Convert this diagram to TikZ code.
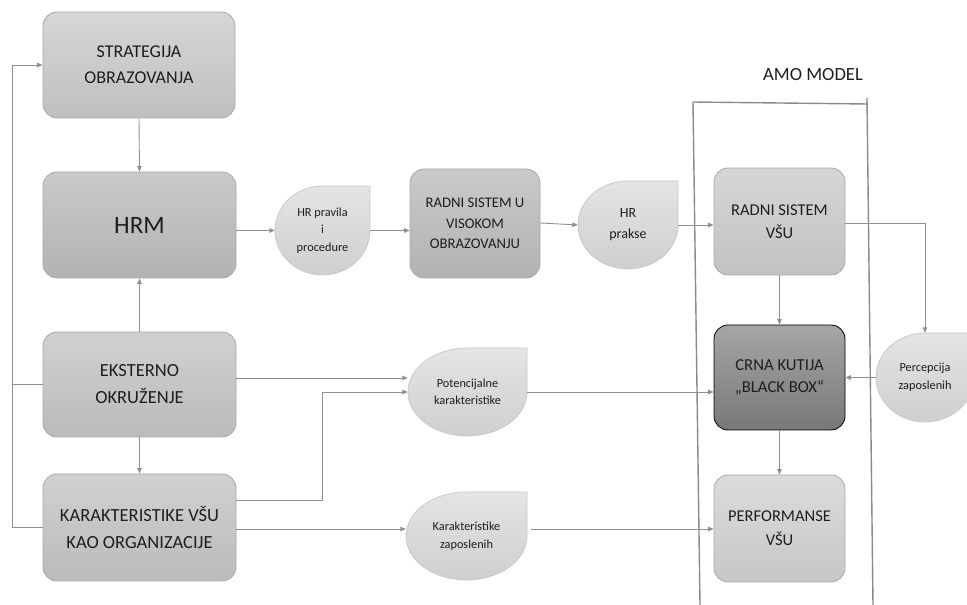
\documentclass[tikz,border=0pt]{standalone}
\usepackage{fontspec}
\setmainfont{Carlito}
\usetikzlibrary{arrows.meta}
\definecolor{txt}{HTML}{1E1E1E}
\definecolor{bord}{HTML}{A9A9A9}
\definecolor{connc}{HTML}{909090}
\definecolor{framec}{HTML}{8A8A8A}
\definecolor{tdtop}{HTML}{E4E4E4}
\definecolor{tdbot}{HTML}{CFCFCF}
\definecolor{tdbord}{HTML}{CACACA}
\tikzset{
  boxnode/.style={draw=bord, line width=0.8pt, rounded corners=14pt, align=center, text=txt, inner sep=0pt},
  tdtext/.style={align=center, text=txt, inner sep=0pt, font=\fontsize{12.3}{17.5}\selectfont},
  tdshape/.style={draw=tdbord, line width=0.8pt, top color=tdtop, bottom color=tdbot},
  conn/.style={draw=connc, line width=0.9pt, -{Triangle[length=5.5pt,width=4.5pt]}},
  plain/.style={draw=connc, line width=0.9pt},
  amoline/.style={draw=framec, line width=1.4pt}
}
\newcommand\tdrop[4]{%
  \path[tdshape] (#1,#2+#4/2) -- (#1+#3/2,#2+#4/2) -- (#1+#3/2,#2)
    arc[start angle=0,end angle=-270,x radius={0.5pt*#3},y radius={0.5pt*#4}] -- cycle;}
\begin{document}
\begin{tikzpicture}[x=1pt,y=1pt]
\useasboundingbox (0,0) rectangle (967,605);

% AMO frame
\draw[amoline] (693,503) -- (700,0);
\draw[amoline] (693,503) -- (867,501);
\draw[amoline] (867,507) -- (873,0);
\node[text=txt, font=\fontsize{18.6}{22}\selectfont] (amo) at (813,530) {AMO MODEL};

% rectangular boxes
\node[boxnode, minimum width=192pt, minimum height=106pt, top color=black!16, bottom color=black!25,
      font=\fontsize{18}{26}\selectfont] (strat) at (139,540) {STRATEGIJA\\OBRAZOVANJA};
\node[boxnode, minimum width=193pt, minimum height=106pt, top color=black!21, bottom color=black!30,
      font=\fontsize{25}{30}\selectfont] (hrm) at (139.5,380) {HRM};
\node[boxnode, minimum width=193pt, minimum height=105pt, top color=black!18, bottom color=black!27,
      font=\fontsize{18.5}{27}\selectfont] (eks) at (139.5,220.5) {EKSTERNO\\OKRUŽENJE};
\node[boxnode, minimum width=193pt, minimum height=107pt, top color=black!18, bottom color=black!27,
      font=\fontsize{18.5}{27}\selectfont] (kar) at (139.5,77.5) {KARAKTERISTIKE VŠU\\KAO ORGANIZACIJE};
\node[boxnode, minimum width=130pt, minimum height=109pt, top color=black!21, bottom color=black!30,
      font=\fontsize{14.7}{20.5}\selectfont] (radni) at (475,381.5) {RADNI SISTEM U\\VISOKOM\\OBRAZOVANJU};
\node[boxnode, minimum width=131pt, minimum height=107pt, top color=black!16, bottom color=black!24,
      font=\fontsize{16.5}{23}\selectfont] (rvsu) at (779.5,383.5) {RADNI SISTEM\\VŠU};
\node[boxnode, draw=black, minimum width=131pt, minimum height=105pt, top color=black!35, bottom color=black!53,
      font=\fontsize{16.7}{22}\selectfont] (crna) at (779.5,227.5) {CRNA KUTIJA\\„BLACK BOX“};
\node[boxnode, minimum width=131pt, minimum height=107pt, top color=black!14, bottom color=black!22,
      font=\fontsize{16.5}{24}\selectfont] (perf) at (779.5,76.5) {PERFORMANSE\\VŠU};

% teardrops
\tdrop{322.5}{374.5}{95}{89}
\node[tdtext, minimum width=95pt, minimum height=89pt] (hrp) at (322.5,374.5) {HR pravila\\i\\procedure};
\tdrop{628}{380}{100}{88}
\node[tdtext, minimum width=100pt, minimum height=88pt, font=\fontsize{14}{21}\selectfont] (hrpr) at (628,380) {HR\\prakse};
\tdrop{467.5}{213}{119}{88}
\node[tdtext, minimum width=119pt, minimum height=88pt] (pot) at (467.5,213) {Potencijalne\\karakteristike};
\tdrop{466.5}{69}{121}{88}
\node[tdtext, minimum width=121pt, minimum height=88pt] (kz) at (466.5,69) {Karakteristike\\zaposlenih};
\tdrop{925}{227.5}{98}{89}
\node[tdtext, minimum width=98pt, minimum height=89pt] (perc) at (925,227.5) {Percepcija\\zaposlenih};

% connectors
\coordinate (fb) at (12,0);
\coordinate (kb) at (322,0);
\draw[conn] (strat.south) -- (hrm.north);
\draw[conn] (eks.north) -- (hrm.south);
\draw[conn] (eks.south) -- (kar.north);
\draw[plain] (eks.west) -- (eks.west -| fb);
\draw[conn] (kar.west) -- (kar.west -| fb) |- (strat.west);
\draw[conn] (hrm.east |- hrp.west) -- (hrp.west);
\draw[conn] (hrp.east) -- (radni.west |- hrp.east);
\draw[conn] ([yshift=0.5pt]radni.east) -- (hrpr.west);
\draw[conn] (hrpr.east) -- (rvsu.west |- hrpr.east);
\draw[conn] ([yshift=-1.5pt]rvsu.east) -| (perc.north);
\draw[conn] (perc.west) -- (crna.east |- perc.west);
\draw[conn] (rvsu.south) -- (crna.north);
\draw[conn] (crna.south) -- (perf.north);
\draw[conn] ([yshift=6.5pt]eks.east) coordinate (e1) -- (e1 -| pot.west);
\draw[conn] ([yshift=27.5pt]kar.east) coordinate (k1) -- (k1 -| kb) |- (pot.west);
\draw[conn] ([yshift=-1.5pt]kar.east) coordinate (k2) -- (k2 -| kz.west);
\draw[conn] (pot.east) -- (crna.west |- pot.east);
\draw[conn] ([xshift=4pt,yshift=7pt]kz.east) coordinate (z1) -- (z1 -| perf.west);
\end{tikzpicture}
\end{document}
